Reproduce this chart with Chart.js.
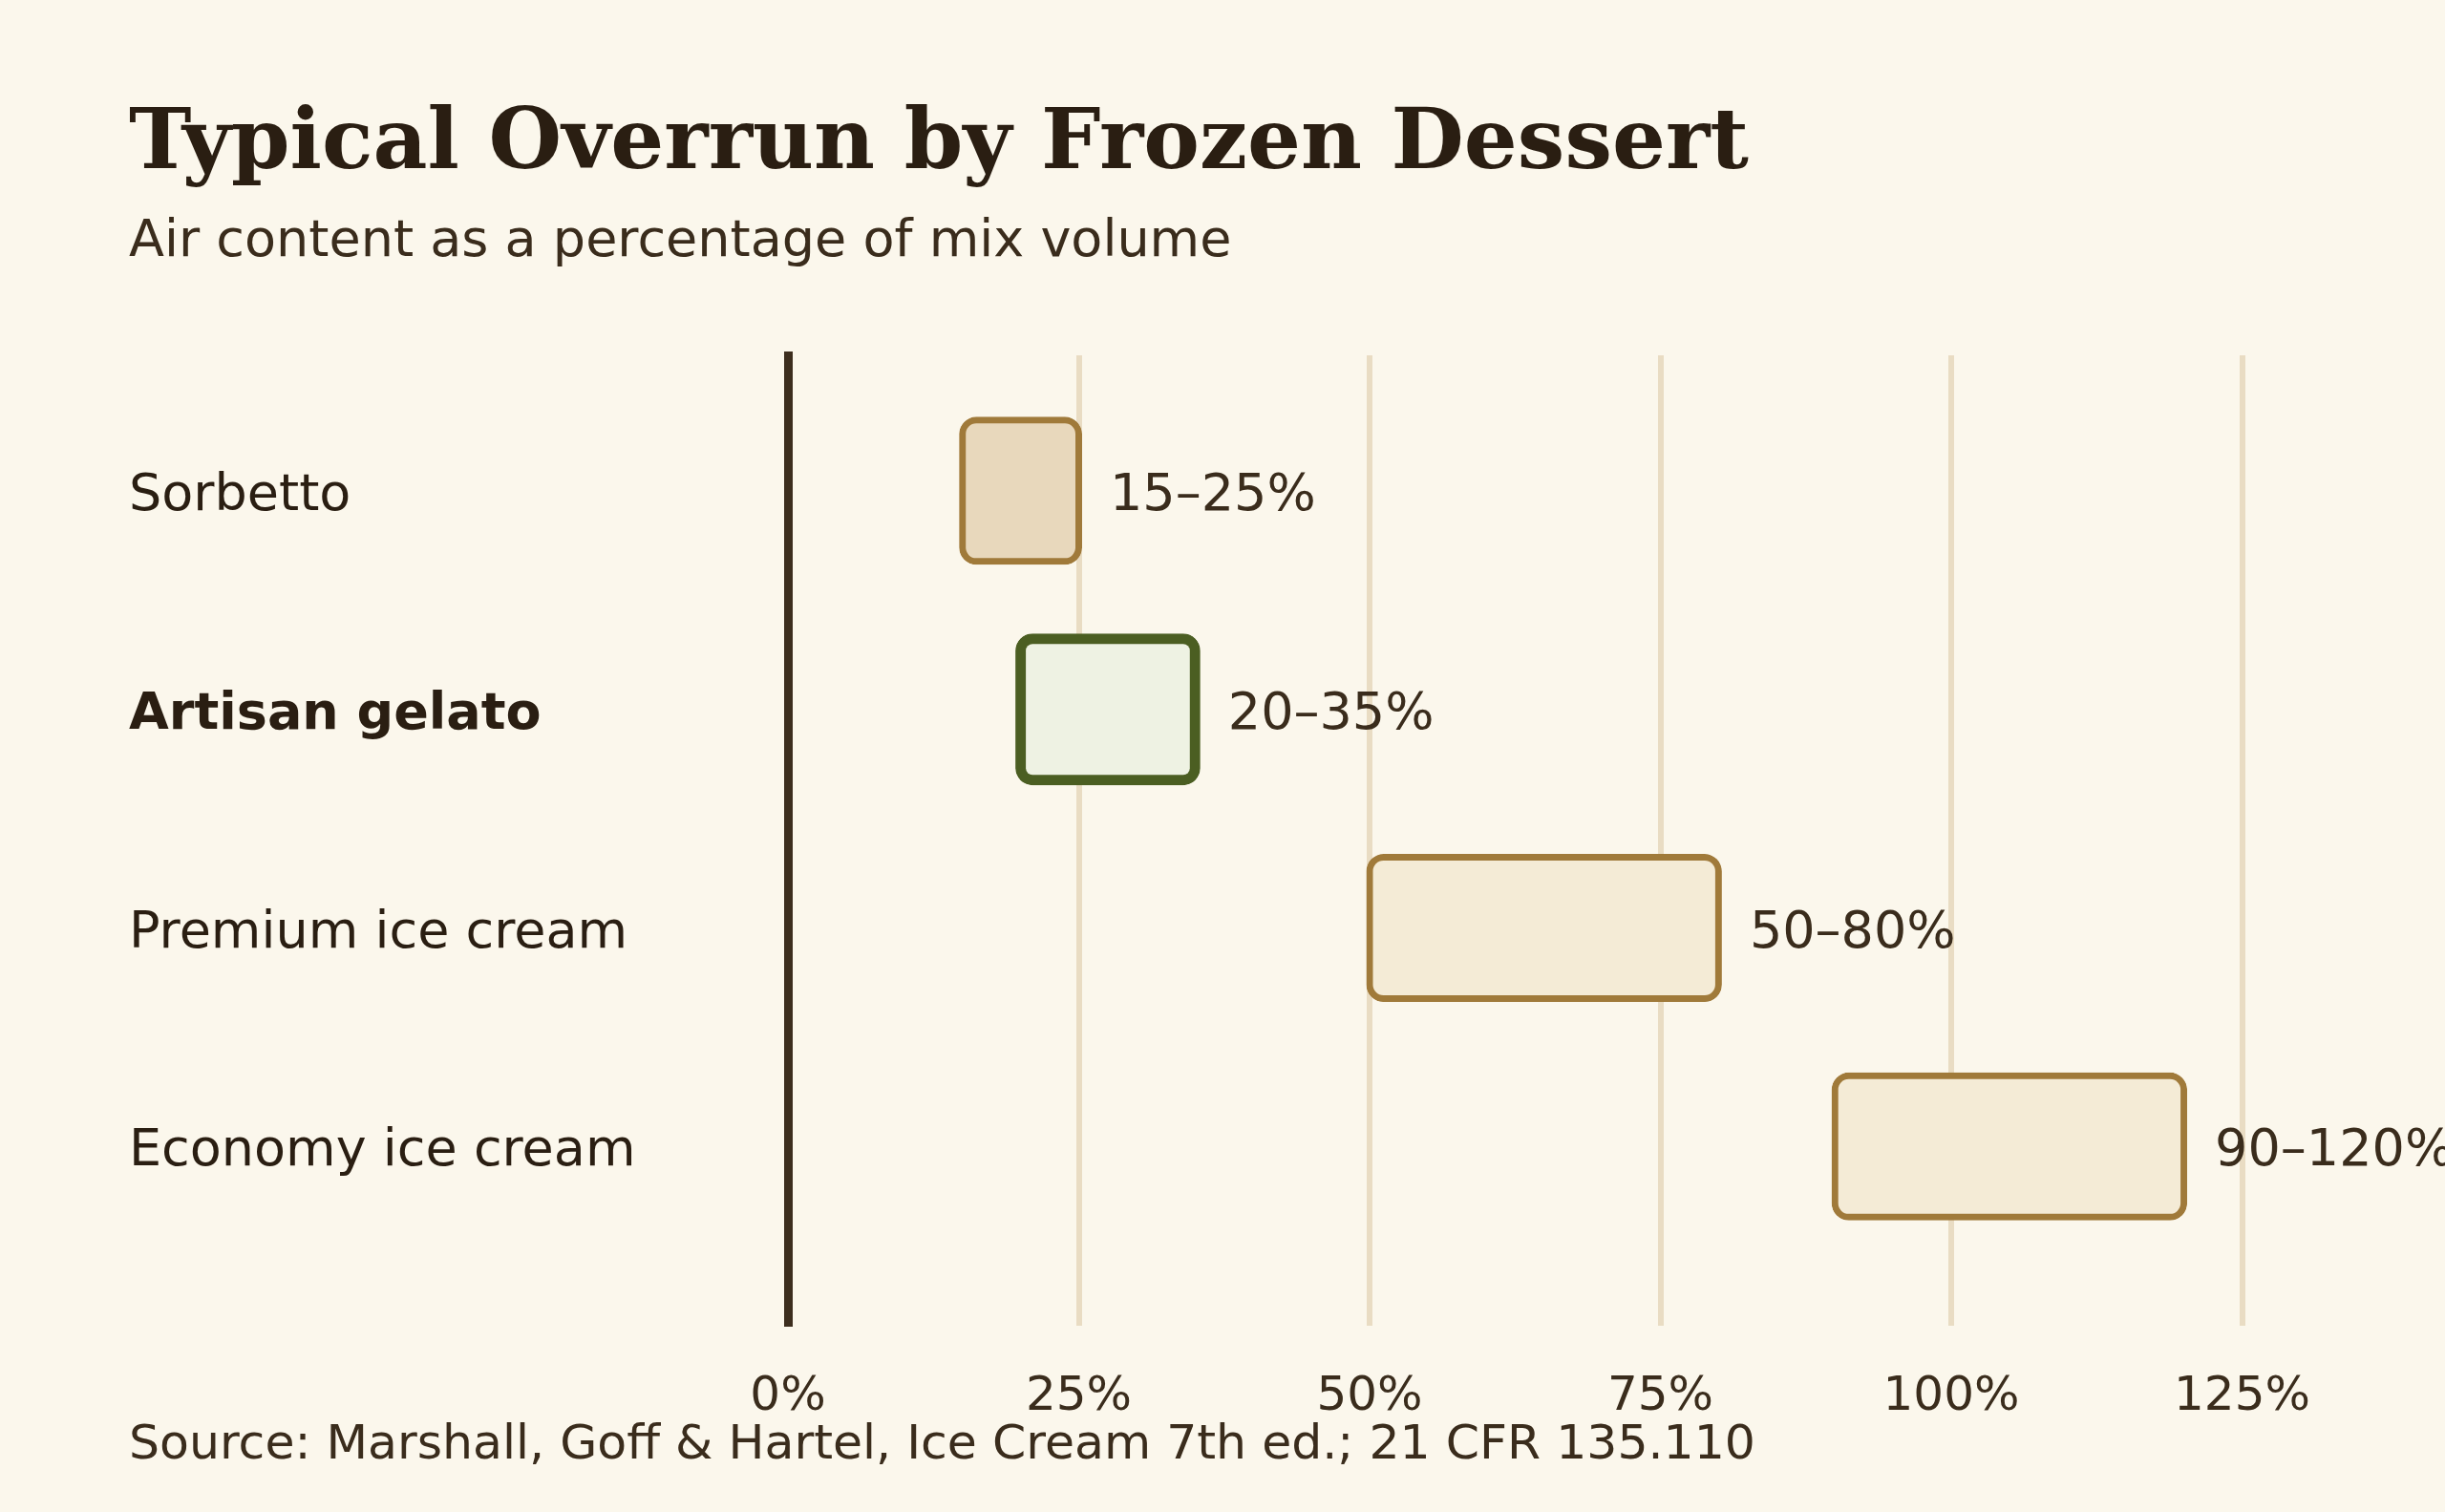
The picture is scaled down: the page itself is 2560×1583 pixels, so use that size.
<!DOCTYPE html>
<html lang="en">
<head>
<meta charset="utf-8">
<title>Typical Overrun by Frozen Dessert</title>
<script src="https://cdn.jsdelivr.net/npm/chart.js@4.4.1/dist/chart.umd.min.js"></script>
<style>
    html, body {
        margin: 0;
        padding: 0;
        background: #FBF7EC;
    }

    body {
        position: relative;
        width: 2560px;
        height: 1583px;
        overflow: hidden;
    }

    .chart-wrap {
        position: absolute;
        left: 0;
        top: 0;
        width: 2560px;
        height: 1583px;
    }

    .title, .subtitle, .source {
        position: absolute;
        left: 135px;
        white-space: nowrap;
    }

    .title {
        top: 101px;
        font: bold 88px/1 "DejaVu Serif", serif;
        color: #2A1E12;
    }

    .subtitle {
        top: 223px;
        font: 54px/1 "DejaVu Sans", sans-serif;
        color: #3A2C1C;
    }

    .source {
        top: 1485px;
        font: 50.5px/1 "DejaVu Sans", sans-serif;
        color: #3A2C1C;
    }
</style>
</head>
<body>
<div class="chart-wrap"><canvas id="chart"></canvas></div>
<div class="title">Typical Overrun by Frozen Dessert</div>
<div class="subtitle">Air content as a percentage of mix volume</div>
<div class="source">Source: Marshall, Goff &amp; Hartel, Ice Cream 7th ed.; 21 CFR 135.110</div>

<script>
// overrun ranges, in % of mix volume
const categories  = ['Sorbetto', 'Artisan gelato', 'Premium ice cream', 'Economy ice cream']
const overrunLow  = [15, 20, 50, 90]
const overrunHigh = [25, 35, 80, 120]
const xTicks      = [0, 25, 50, 75, 100, 125]
const highlighted = 'Artisan gelato'

// styles per bar
const barFills     = ['#E8D8BC', '#EEF2E3', '#F4EBD6', '#F4EBD6']
const barBorders   = ['#A07A3A', '#4B5E22', '#A07A3A', '#A07A3A']
const borderWidths = [7, 11, 7, 7]
const inflates     = [3.5, 5.5, 3.5, 3.5]

const textDark = '#2A1E12'
const textMid  = '#3A2C1C'

const rangeLabels = {
    id: 'rangeLabels',
    afterDatasetsDraw(chart) {
        const {ctx, scales: {x, y}} = chart

        ctx.save()
        ctx.font         = '54px "DejaVu Sans"'
        ctx.fillStyle    = textMid
        ctx.textAlign    = 'left'
        ctx.textBaseline = 'alphabetic'

        categories.forEach((name, i) => {
            const xPos = x.getPixelForValue(overrunHigh[i]) + inflates[i] + 29
            ctx.fillText(`${overrunLow[i]}–${overrunHigh[i]}%`, xPos, y.getPixelForValue(i) + 20)
        })
        ctx.restore()
    }
}

window.addEventListener('DOMContentLoaded', function () {
    const chartCanvas = document.getElementById('chart')

    new Chart(chartCanvas, {
        type   : 'bar',
        data   : {
            datasets: [
                {
                    data           : categories.map((name, i) => ({x: [overrunLow[i], overrunHigh[i]], y: i})),
                    backgroundColor: barFills,
                    borderColor    : barBorders,
                    borderWidth    : borderWidths,
                    inflateAmount  : inflates,
                    borderRadius   : 18,
                    borderSkipped  : false,
                    barThickness   : 148,
                }
            ]
        },
        plugins: [rangeLabels],
        options: {
            indexAxis          : 'y',
            responsive         : true,
            maintainAspectRatio: false,
            devicePixelRatio   : 1,
            animation          : false,
            events             : [],
            layout             : {
                padding: {left: 135, top: 372, right: 212.5, bottom: 0}
            },
            plugins: {
                legend : {display: false},
                tooltip: {enabled: false},
            },
            scales : {
                x: {
                    type    : 'linear',
                    position: 'bottom',
                    min     : xTicks[0],
                    max     : xTicks[xTicks.length - 1],
                    ticks   : {
                        stepSize: xTicks[1] - xTicks[0],
                        padding : 45,
                        color   : textMid,
                        font    : {family: 'DejaVu Sans', size: 50},
                        callback: value => value + '%',
                    },
                    grid    : {color: '#E9DCC3', lineWidth: 6, drawTicks: false},
                    border  : {display: false},
                    afterFit: scale => {
                        scale.height = 195
                    },
                },
                y: {
                    type    : 'linear',
                    position: 'left',
                    reverse : true,
                    offset  : false,
                    min     : -0.62,
                    max     : categories.length - 1 + 0.82,
                    ticks   : {
                        stepSize     : 1,
                        includeBounds: false,
                        autoSkip     : false,
                        crossAlign   : 'far',
                        padding      : 0,
                        labelOffset  : 6,
                        color        : textDark,
                        font         : ctx => ({
                            family: 'DejaVu Sans',
                            size  : 54,
                            weight: ctx.tick && categories[ctx.tick.value] === highlighted ? 'bold' : 'normal',
                        }),
                        callback     : value => categories[value] ?? '',
                    },
                    grid    : {display: false, offset: false, drawTicks: false},
                    border  : {display: true, color: '#3D2E1E', width: 9},
                    afterFit: scale => {
                        scale.width = 690
                    },
                },
            },
        },
    })
})
</script>
</body>
</html>
